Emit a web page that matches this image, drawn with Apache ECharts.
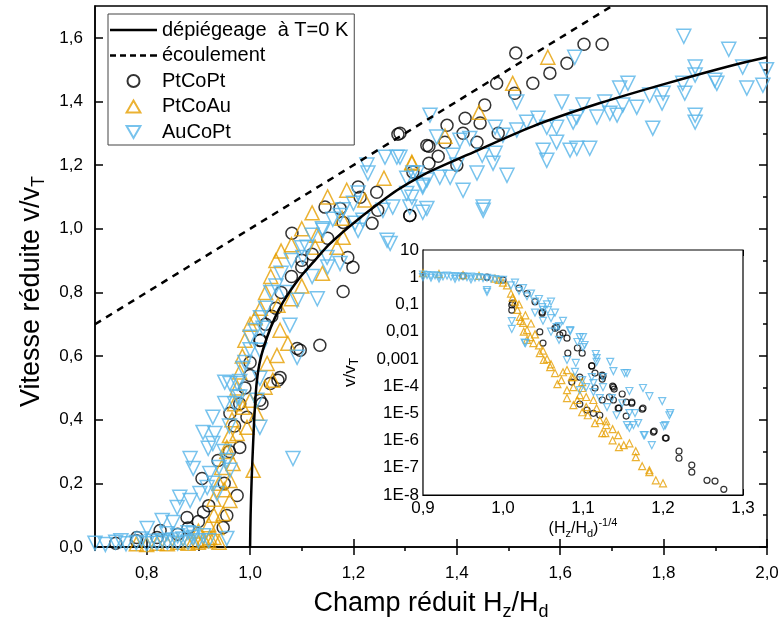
<!DOCTYPE html>
<html>
<head>
<meta charset="utf-8">
<script src="https://cdn.jsdelivr.net/npm/echarts@6/dist/echarts.min.js"></script>
<style>
	html, body { margin: 0; padding: 0; background: #fff; }
	#chart { width: 783px; height: 633px; }
</style>
</head>
<body>
<div id="chart"></div>
<script>
// main plot: reduced speed v/vT vs reduced field Hz/Hd
const xTicks = [0.8, 1.0, 1.2, 1.4, 1.6, 1.8, 2.0];
const xMinorTicks = [0.7, 0.9, 1.1, 1.3, 1.5, 1.7, 1.9];
const yTicks = [0, 0.2, 0.4, 0.6, 0.8, 1.0, 1.2, 1.4, 1.6];
const yMinorTicks = [0.1, 0.3, 0.5, 0.7, 0.9, 1.1, 1.3, 1.5];

const depinningCurve = [
	[1.0, 0], [1.001, 0.1], [1.003, 0.21], [1.006, 0.33], [1.009, 0.43], [1.013, 0.52],
	[1.02, 0.59], [1.033, 0.66], [1.048, 0.72], [1.064, 0.77], [1.093, 0.84], [1.125, 0.9],
	[1.155, 0.954], [1.207, 1.027], [1.265, 1.099], [1.29, 1.127], [1.348, 1.18],
	[1.42, 1.232], [1.547, 1.322], [1.677, 1.395], [1.806, 1.457], [1.934, 1.514], [2.0, 1.539]
];
const flowLine = [[0.7, 0.7], [1.7, 1.7]];

const ptCoPt = [
	[1.514, 1.552], [1.646, 1.58], [1.681, 1.58], [1.613, 1.52], [1.58, 1.489], [1.547, 1.457],
	[1.512, 1.426], [1.477, 1.457], [1.454, 1.389], [1.445, 1.332], [1.416, 1.347], [1.381, 1.325],
	[1.412, 1.3], [1.439, 1.272], [1.377, 1.272], [1.346, 1.259], [1.364, 1.228], [1.346, 1.206],
	[1.4, 1.2], [1.48, 1.3], [1.315, 1.178], [1.29, 1.3], [1.309, 1.042], [1.286, 1.297],
	[1.342, 1.262], [1.145, 1.068], [1.081, 0.986], [1.174, 1.064], [1.209, 1.131], [1.213, 1.099],
	[1.245, 1.115], [1.247, 1.058], [1.236, 1.017], [1.309, 1.042], [1.1, 0.901], [1.189, 0.91],
	[1.199, 0.879], [1.042, 0.725], [1.019, 0.649], [1.091, 0.624], [1.058, 0.533], [1.054, 0.524],
	[1.0, 0.539], [1.023, 0.451], [1.135, 0.634], [1.097, 0.618], [1.18, 0.803], [0.938, 0.272],
	[0.907, 0.215], [0.975, 0.162], [0.955, 0.099], [0.948, 0.061], [0.878, 0.093], [0.826, 0.052],
	[0.781, 0.03], [0.994, 0.408], [0.98, 0.313], [1.019, 0.461], [1.039, 0.514], [0.961, 0.42],
	[0.74, 0.012], [0.78, 0.02], [0.82, 0.03], [0.86, 0.04], [0.88, 0.06], [0.9, 0.08], [0.91, 0.11],
	[0.92, 0.13], [0.95, 0.2], [0.96, 0.3], [0.97, 0.38], [0.98, 0.45], [0.99, 0.5], [1.0, 0.58],
	[1.02, 0.65], [1.03, 0.7], [1.05, 0.75], [1.06, 0.8], [1.08, 0.85], [1.1, 0.88], [1.12, 0.92],
	[1.15, 0.97], [1.18, 1.02]
];
const ptCoAu = [
	[1.576, 1.539], [1.508, 1.457], [1.443, 1.366], [1.377, 1.291], [1.313, 1.206], [1.313, 1.209],
	[1.259, 1.159], [1.187, 1.121], [1.222, 1.09], [1.178, 1.033], [1.18, 0.973], [1.129, 0.98],
	[1.168, 0.942], [1.126, 0.942], [1.054, 0.76], [1.073, 0.64], [1.052, 0.602], [1.058, 0.681],
	[1.033, 0.577], [1.044, 0.524], [1.029, 0.502], [1.0, 0.461], [0.955, 0.313], [0.967, 0.262],
	[1.006, 0.241], [0.961, 0.146], [0.948, 0.105], [0.936, 0.061], [0.961, 0.209], [0.922, 0.03],
	[0.986, 0.439], [0.994, 0.376], [1.013, 0.42], [0.975, 0.357], [1.1, 0.82], [1.14, 0.86],
	[1.08, 0.78], [0.78, 0.01], [0.8, 0.008], [0.82, 0.012], [0.84, 0.01], [0.86, 0.015],
	[0.88, 0.012], [0.89, 0.02], [0.9, 0.015], [0.91, 0.025], [0.92, 0.02], [0.93, 0.03],
	[0.94, 0.015], [0.9, 0.05], [0.92, 0.07], [0.93, 0.1], [0.93, 0.15], [0.94, 0.2], [0.945, 0.25],
	[0.95, 0.18], [0.955, 0.3], [0.96, 0.35], [0.965, 0.4], [0.97, 0.45], [0.975, 0.5], [0.98, 0.55],
	[0.985, 0.6], [0.99, 0.65], [1.0, 0.7], [1.01, 0.72], [1.02, 0.75], [1.03, 0.8], [1.04, 0.85],
	[1.05, 0.9], [1.06, 0.93], [1.08, 0.95], [1.1, 1.0], [1.12, 1.05], [1.15, 1.1]
];
const auCoPt = [
	[1.839, 1.605], [1.926, 1.564], [1.861, 1.508], [1.861, 1.483], [1.953, 1.508], [1.899, 1.467],
	[1.903, 1.457], [1.837, 1.457], [1.841, 1.426], [1.961, 1.442], [1.992, 1.451], [1.999, 1.5],
	[1.731, 1.457], [1.715, 1.442], [1.799, 1.426], [1.797, 1.395], [1.773, 1.42], [1.861, 1.357],
	[1.861, 1.335], [1.779, 1.316], [1.748, 1.382], [1.721, 1.389], [1.71, 1.357], [1.696, 1.363],
	[1.686, 1.398], [1.671, 1.351], [1.644, 1.389], [1.632, 1.351], [1.625, 1.335], [1.603, 1.398],
	[1.593, 1.319], [1.593, 1.272], [1.574, 1.319], [1.557, 1.347], [1.535, 1.335], [1.516, 1.398],
	[1.516, 1.31], [1.567, 1.247], [1.574, 1.215], [1.619, 1.247], [1.632, 1.253], [1.657, 1.253],
	[1.628, 1.539], [1.489, 1.294], [1.474, 1.319], [1.497, 1.168], [1.474, 1.237], [1.47, 1.206],
	[1.449, 1.231], [1.439, 1.175], [1.451, 1.068], [1.451, 1.058], [1.412, 1.121], [1.425, 1.284],
	[1.406, 1.278], [1.387, 1.162], [1.367, 1.162], [1.348, 1.357], [1.361, 1.288], [1.392, 1.231],
	[1.4, 1.2], [1.342, 1.153], [1.334, 1.131], [1.315, 1.175], [1.29, 1.225], [1.303, 1.111],
	[1.309, 1.068], [1.334, 1.052], [1.342, 1.064], [1.261, 1.225], [1.284, 1.225], [1.226, 1.2],
	[1.228, 1.175], [1.209, 1.112], [1.174, 1.042], [1.203, 1.017], [1.209, 0.995], [1.218, 1.027],
	[1.257, 1.058], [1.276, 1.068], [1.303, 1.159], [1.323, 1.175], [1.334, 1.137], [1.313, 1.099],
	[1.265, 0.964], [1.271, 0.954], [1.141, 0.995], [1.11, 0.942], [1.102, 0.91], [1.149, 0.91],
	[1.174, 0.891], [1.068, 0.8], [1.091, 0.775], [1.077, 0.697], [1.025, 0.687], [1.0, 0.659],
	[1.019, 0.618], [1.091, 0.596], [0.986, 0.561], [0.951, 0.518], [0.975, 0.514], [0.98, 0.471],
	[0.951, 0.451], [1.019, 0.53], [0.961, 0.514], [0.975, 0.471], [0.928, 0.408], [0.909, 0.36],
	[0.932, 0.357], [0.928, 0.325], [0.919, 0.31], [0.884, 0.278], [0.89, 0.247], [0.955, 0.272],
	[0.961, 0.241], [1.019, 0.376], [1.013, 0.461], [0.922, 0.231], [0.917, 0.187], [0.864, 0.156],
	[0.884, 0.146], [0.859, 0.124], [0.903, 0.168], [0.936, 0.168], [0.83, 0.083], [0.801, 0.058],
	[0.851, 0.077], [0.955, 0.027], [0.89, 0.042], [0.839, 0.042], [1.083, 0.278], [1.12, 0.85],
	[1.15, 0.88], [1.13, 0.78], [0.7, 0.012], [0.72, 0.008], [0.74, 0.015], [0.76, 0.01],
	[0.78, 0.014], [0.8, 0.01], [0.81, 0.018], [0.82, 0.012], [0.83, 0.02], [0.84, 0.015],
	[0.85, 0.022], [0.86, 0.012], [0.87, 0.025], [0.88, 0.015], [0.89, 0.03], [0.9, 0.02],
	[0.91, 0.035], [0.92, 0.02], [0.75, 0.02], [0.79, 0.025], [0.86, 0.035], [0.88, 0.045],
	[0.93, 0.2], [0.94, 0.25], [0.95, 0.3], [0.96, 0.38], [0.97, 0.45], [0.98, 0.52], [0.99, 0.58],
	[1.0, 0.62], [1.01, 0.68], [1.02, 0.72], [1.03, 0.75], [1.04, 0.8], [1.05, 0.82], [1.06, 0.86],
	[1.08, 0.9], [1.1, 0.94], [1.12, 0.98], [1.14, 1.0], [1.16, 1.03], [1.18, 1.06], [1.2, 1.08]
];

// inset: v/vT (log scale) vs (Hz/Hd)^-1/4 ; y given as log10(v/vT)
const insetXTicks = [0.9, 1.0, 1.1, 1.2, 1.3];
const insetXMinorTicks = [0.95, 1.05, 1.15, 1.25];
const insetYTicks = [10, 1, 0.1, 0.01, 0.001, 1e-4, 1e-5, 1e-6, 1e-7, 1e-8];
const insetYLabels = ['10', '1', '0,1', '0,01', '0,001', '1E-4', '1E-5', '1E-6', '1E-7', '1E-8'];

const insetPtCoPtLog = [
	[1.276, -7.79], [1.265, -7.49], [1.255, -7.46], [1.236, -7.16], [1.236, -6.9], [1.22, -6.65],
	[1.22, -6.39], [1.204, -5.91], [1.189, -5.65], [1.174, -4.85], [1.161, -4.59], [1.154, -5.1],
	[1.154, -4.59], [1.149, -4.29], [1.145, -4.81], [1.139, -4.11], [1.137, -4.0], [1.125, -3.63],
	[1.124, -3.74], [1.115, -3.52], [1.111, -3.26], [1.099, -2.79], [1.093, -2.6], [1.08, -2.24],
	[1.075, -2.05], [1.096, -3.67], [1.105, -4.88], [1.096, -4.66], [1.086, -3.85], [1.115, -4.07],
	[1.121, -5.07], [1.133, -4.4], [1.124, -4.51], [1.138, -4.51], [1.113, -5.0], [1.049, -1.32],
	[1.067, -1.83], [1.046, -2.01], [1.05, -2.42], [1.012, -0.95], [1.011, -1.02], [1.049, -1.28],
	[1.065, -1.87], [1.071, -2.12], [1.081, -2.79], [1.111, -3.26], [1.124, -3.6], [1.138, -4.04],
	[1.144, -4.81], [1.161, -4.63], [1.175, -4.81], [1.188, -5.69], [1.203, -5.91], [1.011, -1.21],
	[0.95, 0.05], [0.98, 0.0], [1.0, -0.1], [1.02, -0.4], [1.03, -0.6], [1.04, -0.9]
];
const insetPtCoAuLog = [
	[1.2, -7.57], [1.191, -7.46], [1.183, -7.16], [1.183, -7.09], [1.174, -6.94], [1.166, -6.61],
	[1.166, -6.39], [1.158, -6.1], [1.151, -6.17], [1.145, -6.24], [1.137, -5.99], [1.144, -5.8],
	[1.137, -5.58], [1.128, -5.73], [1.124, -5.73], [1.129, -5.29], [1.129, -5.43], [1.121, -5.25],
	[1.115, -5.36], [1.106, -5.07], [1.099, -4.96], [1.088, -4.7], [1.08, -4.44], [1.093, -4.51],
	[1.104, -4.77], [1.117, -4.81], [1.113, -4.51], [1.104, -4.4], [1.096, -4.33], [1.099, -4.07],
	[1.088, -4.04], [1.08, -4.15], [1.068, -3.93], [1.073, -3.78], [1.065, -3.52], [1.059, -3.3],
	[1.051, -3.04], [1.046, -2.79], [1.038, -2.42], [1.034, -2.2], [1.03, -1.94], [1.025, -1.68],
	[1.021, -1.46], [1.08, -3.41], [1.086, -3.67], [1.099, -3.85], [1.075, -3.49], [1.088, -3.67],
	[1.005, -0.3], [1.01, -0.6], [1.015, -0.9], [1.018, -1.2], [1.022, -1.6], [1.026, -2.0],
	[1.03, -2.3], [1.012, -0.75], [1.02, -1.0], [1.028, -1.4], [1.035, -1.7], [1.04, -2.1],
	[1.045, -2.5], [1.05, -2.7], [1.055, -3.0], [1.06, -3.2], [0.9, 0.15], [0.92, 0.12],
	[0.95, 0.08], [0.97, 0.05], [0.99, -0.05], [0.995, -0.1], [1.0, -0.2]
];
const insetAuCoPtLog = [
	[1.199, -4.55], [1.208, -5.07], [1.186, -6.17], [1.176, -5.8], [1.201, -5.47], [1.183, -4.37],
	[1.175, -4.07], [1.158, -4.18], [1.152, -3.52], [1.138, -3.45], [1.134, -3.11], [1.117, -3.11],
	[1.116, -2.82], [1.1, -2.2], [1.093, -2.38], [1.084, -1.98], [1.067, -1.83], [1.056, -1.21],
	[1.049, -1.1], [1.028, -2.42], [1.011, -1.61], [1.1, -2.57], [1.125, -3.67], [1.113, -3.89],
	[1.104, -4.04], [1.096, -4.15], [1.099, -3.78], [1.091, -3.15], [1.09, -3.48], [1.08, -3.04],
	[1.111, -3.67], [1.113, -4.22], [1.125, -4.04], [1.121, -4.44], [1.136, -4.44], [1.149, -4.63],
	[1.158, -4.99], [1.165, -4.99], [1.155, -5.43], [1.158, -5.54], [1.163, -5.43], [1.169, -5.36],
	[1.177, -5.8], [1.13, -4.77], [1.142, -5.07], [1.155, -3.52], [1.209, -4.99], [1.203, -5.43],
	[0.98, -0.47], [1.084, -1.94], [1.096, -2.2], [1.117, -2.97], [1.102, -2.49], [0.98, -0.54],
	[1.011, -1.9], [1.027, -2.4], [1.0, -0.1], [1.01, -0.3], [1.02, -0.5], [1.03, -0.7],
	[1.04, -0.9], [1.05, -1.2], [1.06, -1.5], [1.07, -1.8], [1.015, -0.2], [1.025, -0.4],
	[1.035, -0.6], [1.045, -0.8], [1.055, -1.0], [1.065, -1.3], [1.075, -1.6], [1.06, -0.9],
	[1.04, -1.3], [1.05, -1.6], [1.06, -2.0], [1.07, -2.3], [0.9, 0.1], [0.9, 0.0], [0.905, 0.08],
	[0.91, 0.06], [0.91, -0.02], [0.915, 0.07], [0.92, 0.05], [0.925, 0.03], [0.93, 0.06],
	[0.935, 0.02], [0.94, 0.04], [0.945, 0.0], [0.95, 0.03], [0.955, 0.0], [0.96, 0.02],
	[0.965, -0.02], [0.97, 0.0], [0.975, -0.03], [0.98, -0.02], [0.985, -0.05], [0.99, -0.07],
	[0.995, -0.1], [0.92, -0.05], [0.94, -0.06], [0.96, -0.08]
];

const BLACK = '#000';
const ORANGE = '#E69F00';
const BLUE = '#56B4E9';
const FONT = 'Liberation Sans, Arial, sans-serif';

function comma(v) {
	return v.toFixed(1).replace('.', ',');
}

function fromLog(points) {
	return points.map(([x, e]) => [x, Math.pow(10, e)]);
}

function insetYLabel(value) {
	const i = insetYTicks.findIndex(t => Math.abs(Math.log10(t) - Math.log10(value)) < 0.01);
	return i < 0 ? '' : insetYLabels[i];
}

// log minor ticks 2..9 x 10^k
const insetYMinorTicks = [];
for (let k = -8; k < 1; k++) {
	for (let m = 2; m < 10; m++) insetYMinorTicks.push(m * Math.pow(10, k));
}

// rich text styles for sub/superscripts in axis titles
function richFor(size, lh) {
	const small = Math.round(size * 0.68);
	return {
		n: { fontSize: size, lineHeight: lh, fontFamily: FONT, color: BLACK },
		sb: { fontSize: small, lineHeight: small, verticalAlign: 'bottom', fontFamily: FONT, color: BLACK },
		sp: { fontSize: small, lineHeight: small, verticalAlign: 'top', fontFamily: FONT, color: BLACK }
	};
}

function frameAxis(opts) {
	// helper for tick-only axes (frame mirrors and minor ticks)
	return Object.assign({
		type: 'value',
		axisLine: { show: false },
		axisLabel: { show: false },
		splitLine: { show: false }
	}, opts);
}

function scatter(name, data, symbol, color, size, rotate, xi, yi) {
	return {
		name, type: 'scatter', data, symbol, symbolSize: size, symbolRotate: rotate,
		xAxisIndex: xi, yAxisIndex: yi,
		itemStyle: { color: 'rgba(0,0,0,0)', borderColor: color, borderWidth: xi === 0 ? 1.5 : 1.2 },
		emphasis: { disabled: true },
		animation: false
	};
}

const dashIcon = 'path://M0,0h6v2.5h-6zM10,0h6v2.5h-6zM20,0h6v2.5h-6zM30,0h6v2.5h-6zM40,0h7v2.5h-7z';
const solidIcon = 'path://M0,0H47V2.5H0Z';
const upIcon = 'path://M6,0L12,10.4L0,10.4Z';
const downIcon = 'path://M0,0L12,0L6,10.4Z';

const chart = echarts.init(document.getElementById('chart'), null, { renderer: 'canvas' });

chart.setOption({
	animation: false,
	textStyle: { fontFamily: FONT },
	grid: [
		{ left: 95, right: 16, top: 6, bottom: 86, show: true, borderColor: BLACK, borderWidth: 1.5, backgroundColor: 'transparent' },
		{ left: 423, top: 250, width: 320, height: 245, show: true, borderColor: BLACK, borderWidth: 1.2, backgroundColor: '#fff', z: 5 }
	],
	legend: {
		orient: 'vertical',
		left: 108, top: 14,
		padding: [6, 6, 3, 2],
		itemGap: 5.5,
		itemWidth: 47, itemHeight: 12,
		symbolRotate: 0,
		borderColor: '#444', borderWidth: 1,
		backgroundColor: '#fff',
		textStyle: { fontSize: 20, color: BLACK, fontFamily: FONT, lineHeight: 20 },
		data: [
			{ name: 'dépiégeage  à T=0 K', icon: solidIcon },
			{ name: 'écoulement', icon: dashIcon },
			{ name: 'PtCoPt', icon: 'circle' },
			{ name: 'PtCoAu', icon: upIcon },
			{ name: 'AuCoPt', icon: downIcon }
		],
		z: 10
	},
	xAxis: [
		{
			type: 'value', gridIndex: 0, min: 0.7, max: 2.0,
			axisLine: { lineStyle: { color: BLACK, width: 1.5 } },
			axisTick: { inside: true, length: 8, customValues: xTicks, lineStyle: { color: BLACK, width: 1.5 } },
			axisLabel: { customValues: xTicks, formatter: comma, fontSize: 17, color: BLACK, margin: 18 },
			splitLine: { show: false },
			name: '{n|Champ réduit H}{sb|z}{n|/H}{sb|d}',
			nameLocation: 'middle', nameGap: 40,
			nameTextStyle: { rich: richFor(27, 34) }
		},
		frameAxis({ gridIndex: 0, min: 0.7, max: 2.0, axisTick: { inside: true, length: 4, customValues: xMinorTicks, lineStyle: { color: BLACK, width: 1.5 } } }),
		frameAxis({ gridIndex: 0, min: 0.7, max: 2.0, position: 'top', axisTick: { inside: true, length: 8, customValues: xTicks, lineStyle: { color: BLACK, width: 1.5 } } }),
		frameAxis({ gridIndex: 0, min: 0.7, max: 2.0, position: 'top', axisTick: { inside: true, length: 4, customValues: xMinorTicks, lineStyle: { color: BLACK, width: 1.5 } } }),
		{
			type: 'value', gridIndex: 1, min: 0.9, max: 1.3,
			axisLine: { lineStyle: { color: BLACK, width: 1.2 } },
			axisTick: { inside: true, length: 6, customValues: insetXTicks, lineStyle: { color: BLACK } },
			axisLabel: { customValues: insetXTicks, formatter: comma, fontSize: 17, color: BLACK, margin: 5 },
			splitLine: { show: false },
			name: '{n|(H}{sb|z}{n|/H}{sb|d}{n|)}{sp|-1/4}',
			nameLocation: 'middle', nameGap: 18,
			nameTextStyle: { rich: richFor(16, 22) }
		},
		frameAxis({ gridIndex: 1, min: 0.9, max: 1.3, axisTick: { inside: true, length: 3, customValues: insetXMinorTicks, lineStyle: { color: BLACK } } }),
		frameAxis({ gridIndex: 1, min: 0.9, max: 1.3, position: 'top', axisTick: { inside: true, length: 6, customValues: insetXTicks, lineStyle: { color: BLACK } } })
	],
	yAxis: [
		{
			type: 'value', gridIndex: 0, min: 0, max: 1.7,
			axisLine: { lineStyle: { color: BLACK, width: 1.5 } },
			axisTick: { inside: true, length: 8, customValues: yTicks, lineStyle: { color: BLACK, width: 1.5 } },
			axisLabel: { customValues: yTicks, formatter: comma, fontSize: 17, color: BLACK, margin: 12 },
			splitLine: { show: false },
			name: '{n|Vitesse réduite v/v}{sb|T}',
			nameLocation: 'middle', nameGap: 44, nameRotate: 90,
			nameTextStyle: { rich: richFor(27, 34), padding: [0, 30, 0, 0] }
		},
		frameAxis({ gridIndex: 0, min: 0, max: 1.7, axisTick: { inside: true, length: 4, customValues: yMinorTicks, lineStyle: { color: BLACK, width: 1.5 } } }),
		frameAxis({ gridIndex: 0, min: 0, max: 1.7, position: 'right', axisTick: { inside: true, length: 8, customValues: yTicks, lineStyle: { color: BLACK, width: 1.5 } } }),
		frameAxis({ gridIndex: 0, min: 0, max: 1.7, position: 'right', axisTick: { inside: true, length: 4, customValues: yMinorTicks, lineStyle: { color: BLACK, width: 1.5 } } }),
		{
			type: 'log', logBase: 10, gridIndex: 1, min: 1e-8, max: 10,
			axisLine: { lineStyle: { color: BLACK, width: 1.2 } },
			axisTick: { inside: true, length: 6, customValues: insetYTicks, lineStyle: { color: BLACK } },
			axisLabel: { customValues: insetYTicks, formatter: insetYLabel, fontSize: 17, color: BLACK, margin: 4 },
			splitLine: { show: false },
			name: '{n|v/v}{sb|T}',
			nameLocation: 'middle', nameGap: 62, nameRotate: 90,
			nameTextStyle: { rich: richFor(17, 22) }
		},
		Object.assign(frameAxis({ gridIndex: 1, min: 1e-8, max: 10, axisTick: { inside: true, length: 3, customValues: insetYMinorTicks, lineStyle: { color: BLACK } } }), { type: 'log', logBase: 10 }),
		Object.assign(frameAxis({ gridIndex: 1, min: 1e-8, max: 10, position: 'right', axisTick: { inside: true, length: 6, customValues: insetYTicks, lineStyle: { color: BLACK } } }), { type: 'log', logBase: 10 })
	],
	series: [
		scatter('PtCoPt', ptCoPt, 'circle', BLACK, 12, 0, 0, 0),
		scatter('PtCoAu', ptCoAu, 'triangle', ORANGE, 14, 0, 0, 0),
		scatter('AuCoPt', auCoPt, 'triangle', BLUE, 14, 180, 0, 0),
		{
			name: 'dépiégeage  à T=0 K', type: 'line', data: depinningCurve,
			xAxisIndex: 0, yAxisIndex: 0, symbol: 'none', smooth: 0.3, z: 4,
			lineStyle: { color: BLACK, width: 2.5 }, itemStyle: { color: BLACK }
		},
		{
			name: 'écoulement', type: 'line', data: flowLine,
			xAxisIndex: 0, yAxisIndex: 0, symbol: 'none', z: 4,
			lineStyle: { color: BLACK, width: 2.5, type: [7, 6] }, itemStyle: { color: BLACK }
		},
		scatter('PtCoPt', fromLog(insetPtCoPtLog), 'circle', BLACK, 6, 0, 4, 4),
		scatter('PtCoAu', fromLog(insetPtCoAuLog), 'triangle', ORANGE, 7, 0, 4, 4),
		scatter('AuCoPt', fromLog(insetAuCoPtLog), 'triangle', BLUE, 7, 180, 4, 4)
	].map((s, i) => (i >= 5 ? Object.assign(s, { z: 6 }) : s))
});
</script>
</body>
</html>
